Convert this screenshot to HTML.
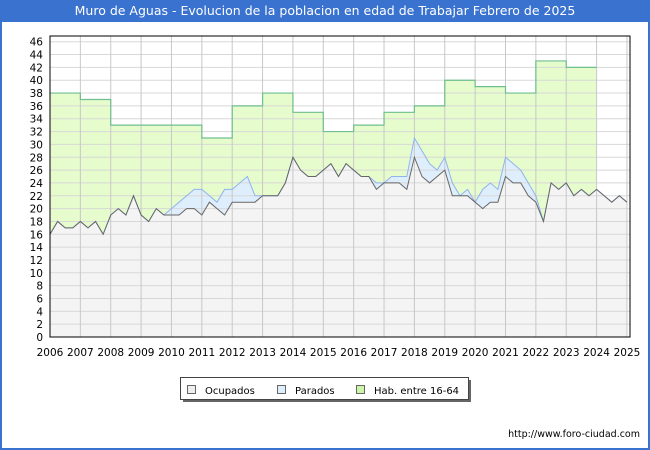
<!DOCTYPE html>
<html><head><meta charset="utf-8"><style>
body{margin:0;width:650px;height:450px;overflow:hidden;background:#fff;font-family:"DejaVu Sans","Liberation Sans",sans-serif;}
#frame{position:absolute;left:0;top:0;width:646px;height:448px;border:2px solid #3a72d0;border-top:none;}
#title{position:absolute;left:0;top:0;width:650px;height:22px;background:#3a72d0;color:#fff;font-size:12.5px;line-height:22px;text-align:center;}
</style></head><body>
<div id="frame"></div>
<div id="title">Muro de Aguas - Evolucion de la poblacion en edad de Trabajar Febrero de 2025</div>
<svg id="chart" width="650" height="450" style="position:absolute;left:0;top:0"></svg>
<script>
const years=[2006,2007,2008,2009,2010,2011,2012,2013,2014,2015,2016,2017,2018,2019,2020,2021,2022,2023,2024,2025];
const yTicks=[0,2,4,6,8,10,12,14,16,18,20,22,24,26,28,30,32,34,36,38,40,42,44,46];
const habYears=[2006,2007,2008,2009,2010,2011,2012,2013,2014,2015,2016,2017,2018,2019,2020,2021,2022,2023];
const habValues=[38,37,33,33,33,31,36,38,35,32,33,35,36,40,39,38,43,42];
const ocupados=[16,18,17,17, 18,17,18,16, 19,20,19,22, 19,18,20,19, 19,19,20,20, 19,21,20,19, 21,21,21,21, 22,22,22,24, 28,26,25,25, 26,27,25,27, 26,25,25,23, 24,24,24,23, 28,25,24,25, 26,22,22,22, 21,20,21,21, 25,24,24,22, 21,18,24,23, 24,22,23,22, 23,22,21,22, 21];
const parados=[0,0,0,0, 0,0,0,0, 0,0,0,0, 0,0,0,0, 1,2,2,3, 4,1,1,4, 2,3,4,1, 0,0,0,0, 0,0,0,0, 0,0,0,0, 0,0,0,1, 0,1,1,2, 3,4,3,1, 2,2,0,1, 0,3,3,2, 3,3,2,2, 1,0,0,0, 0,0,0,0, 0,0,0,0, 0];
const X0=50,X1=630,Y0=337,YT=41.7,L=2006,R=2025.1;
const x=v=>X0+(v-L)/(R-L)*(X1-X0);
const y=v=>Y0-(v/46)*(Y0-YT);
const svg=document.getElementById('chart');
const NS='http://www.w3.org/2000/svg';
function mk(t,a){const e=document.createElementNS(NS,t);for(const k in a)e.setAttribute(k,a[k]);svg.appendChild(e);return e;}
let e=mk('rect',{x:X0,y:36,width:X1-X0,height:Y0-36+1,fill:'#fff'});


let hp='M'+x(habYears[0])+','+y(0);
habValues.forEach((v,i)=>{hp+=' L'+x(habYears[i])+','+y(v)+' L'+x(habYears[i]+1)+','+y(v);});
hp+=' L'+x(habYears[habYears.length-1]+1)+','+y(0)+'Z';
e=mk('path',{d:hp,fill:'#e6fccc',stroke:'none'});


const tx=i=>L+i*0.25;
let tp='',op='';
ocupados.forEach((v,i)=>{tp+=(i?' L':'M')+x(tx(i))+','+y(v+parados[i]);op+=(i?' L':'M')+x(tx(i))+','+y(v);});
const last=ocupados.length-1;
e=mk('path',{d:tp+' L'+x(tx(last))+','+y(0)+' L'+x(L)+','+y(0)+'Z',fill:'#dfeefc'});


e=mk('path',{d:op+' L'+x(tx(last))+','+y(0)+' L'+x(L)+','+y(0)+'Z',fill:'#f4f4f4'});


yTicks.forEach(v=>{let g=mk('line',{x1:X0,x2:X1,y1:y(v),y2:y(v),stroke:'#d8d8d8','stroke-width':1});


let t=mk('text',{x:43,y:y(v)+4,'text-anchor':'end','font-size':10.5,fill:'#000'});t.textContent=v;

});
years.forEach(v=>{let g=mk('line',{x1:x(v),x2:x(v),y1:36,y2:Y0,stroke:'#c8c8c8','stroke-width':1});


let t=mk('text',{x:x(v),y:356,'text-anchor':'middle','font-size':10.5,fill:'#000'});t.textContent=v;

});
let hl='';
habValues.forEach((v,i)=>{hl+=(i?' L':'M')+x(habYears[i])+','+y(v)+' L'+x(habYears[i]+1)+','+y(v);});
e=mk('path',{d:hl,fill:'none',stroke:'#6fbf8f','stroke-width':1.2});


e=mk('path',{d:tp,fill:'none',stroke:'#8fb4ee','stroke-width':1});


e=mk('path',{d:op,fill:'none',stroke:'#666','stroke-width':1});


e=mk('rect',{x:X0,y:36,width:X1-X0,height:Y0-36,fill:'none',stroke:'#000','stroke-width':1});


e=mk('rect',{x:183,y:380,width:288,height:22,fill:'#666'});


e=mk('rect',{x:180.5,y:377.5,width:288,height:22,fill:'#fff',stroke:'#444'});


const legNames=['Ocupados','Parados','Hab. entre 16-64'];
const legColors=['#eeeeee','#dfeefc','#ccf5a8'];
const legX=[187,277,356];
legNames.forEach((n,i)=>{let r=mk('rect',{x:legX[i]+0.5,y:385.5,width:8,height:8,fill:legColors[i],stroke:'#666'});


let t=mk('text',{x:legX[i]+18,y:394,'font-size':10,fill:'#000'});t.textContent=n;

});
e=mk('text',{x:640,y:437,'text-anchor':'end','font-size':9.5,fill:'#000'});e.textContent='http://www.foro-ciudad.com';


</script>
</body></html>
